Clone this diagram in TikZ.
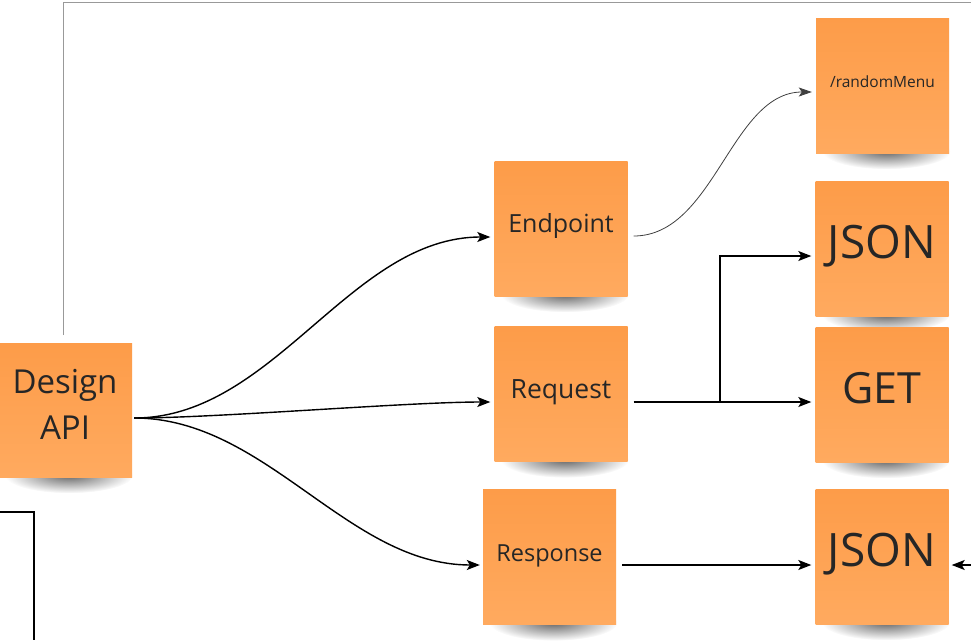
\documentclass[tikz,border=0pt]{standalone}
\usepackage{fontspec}
\setmainfont{Open Sans}
\usetikzlibrary{arrows.meta,fadings}
\pgfdeclarelayer{bg}
\pgfsetlayers{bg,main}
\definecolor{notetop}{HTML}{FD9C49}
\definecolor{notebot}{HTML}{FFAA5F}
\definecolor{notetext}{HTML}{262626}
\tikzfading[name=softshade, inner color=transparent!0, outer color=transparent!100]
\tikzset{
  note/.style={rectangle, minimum width=133pt, minimum height=135pt, inner sep=0pt,
    top color=notetop, bottom color=notebot, text=notetext, align=center},
  noteshadow/.style={fill=black, opacity=0.6, path fading=softshade},
  conn/.style={line width=1.4pt, black, -{Stealth[length=13pt,width=10pt,inset=3pt]}},
  thinconn/.style={line width=0.8pt, black!75, -{Stealth[length=13pt,width=9pt,inset=3pt]}},
  plain/.style={line width=1.4pt, black},
  frame/.style={line width=1pt, black!40}
}
\newcommand\castshadow[1]{\begin{pgfonlayer}{bg}\fill[noteshadow] ([xshift=4pt,yshift=2pt]#1.south) ellipse [x radius=64pt, y radius=18pt];\end{pgfonlayer}}
\begin{document}
\begin{tikzpicture}[x=1pt,y=-1pt]
\useasboundingbox (0,0) rectangle (971,640);
\begin{pgfonlayer}{bg}
\fill[white] (0,0) rectangle (971,640);
\end{pgfonlayer}
% frame lines
\coordinate (f1) at (63,335);
\coordinate (f2) at (63,2);
\coordinate (f3) at (971,2);
\draw[frame] (f1) -- (f2) -- (f3);
\coordinate (b1) at (0,512);
\coordinate (b2) at (34,512);
\coordinate (b3) at (34,640);
\draw[line width=1.8pt,black] (b1) -- (b2) -- (b3);
% notes
\node[note, minimum width=134pt, minimum height=134pt, font=\fontsize{33}{46.5}\selectfont, text depth=11pt] (api) at (65,410) {Design\\API};
\node[note, font=\fontsize{25}{30}\selectfont, text height=7.6pt, text depth=0pt] (ep) at (561,228.5) {Endpoint};
\node[note, font=\fontsize{26.5}{30}\selectfont, text height=9pt, text depth=0pt] (req) at (561,394) {Request};
\node[note, font=\fontsize{23.5}{30}\selectfont, text height=8pt, text depth=0pt] (resp) at (549.5,557) {Response};
\node[note, font=\fontsize{15.5}{20}\selectfont, text height=3.6pt, text depth=0pt] (menu) at (882.5,85.5) {/randomMenu};
\node[note, font=\fontsize{46}{50}\selectfont, text height=20pt, text depth=0pt] (json1) at (882,248.5) {JSON};
\node[note, font=\fontsize{43}{50}\selectfont, text height=17.8pt, text depth=0pt] (get) at (882,394.5) {GET};
\node[note, font=\fontsize{46}{50}\selectfont, text height=20pt, text depth=0pt] (json2) at (882,556.5) {JSON};
\castshadow{api}\castshadow{ep}\castshadow{req}\castshadow{resp}
\castshadow{menu}\castshadow{json1}\castshadow{get}\castshadow{json2}
% connectors
\draw[conn] ([xshift=2pt,yshift=-8pt]api.east) to[out=0,in=180,looseness=0.9] ([xshift=-4pt,yshift=-8.5pt]ep.west);
\draw[conn] ([xshift=2pt,yshift=-8pt]api.east) to[out=0,in=180,looseness=0.6] ([xshift=-4pt,yshift=-8pt]req.west);
\draw[conn] ([xshift=2pt,yshift=-8pt]api.east) to[out=0,in=180,looseness=0.9] ([xshift=-3pt,yshift=-8pt]resp.west);
\draw[thinconn] ([xshift=6pt,yshift=-7.5pt]ep.east) to[out=0,in=180,looseness=0.9] ([xshift=-4pt,yshift=-6.5pt]menu.west);
\coordinate (split) at (720,402);
\draw[plain] ([xshift=6pt,yshift=-8pt]req.east) -- (split);
\draw[conn] (split) |- ([xshift=-4pt,yshift=-7.5pt]json1.west);
\draw[conn] (split) -- ([xshift=-4pt,yshift=-7.5pt]get.west);
\draw[conn] ([xshift=6pt,yshift=-8pt]resp.east) -- ([xshift=-4pt,yshift=-8.5pt]json2.west);
\coordinate (rin) at (971,565);
\draw[conn] (rin) -- ([xshift=3pt,yshift=-8.5pt]json2.east);
\end{tikzpicture}
\end{document}
